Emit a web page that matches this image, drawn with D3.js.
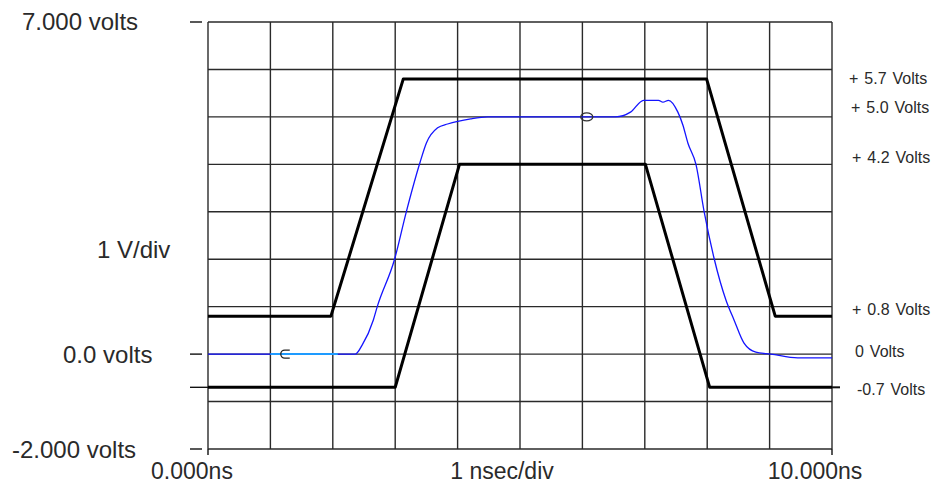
<!DOCTYPE html>
<html>
  <head>
    <meta charset="utf-8">
    <title>Timing window</title>
    <script src="https://cdn.jsdelivr.net/npm/d3@7"></script>
    <style type="text/css">
      body { margin: 0; background: #fff; }
      text { font-family: "Liberation Sans", Arial, sans-serif; fill: #2a2a2a; }
    </style>
  </head>
  <body>
    <script>
    // values (time in ns, level in volts)
    var upperLimit = [[0, 0.8], [1.97, 0.8], [3.13, 5.8], [7.99, 5.8], [9.09, 0.8], [10, 0.8]];
    var lowerLimit = [[0, -0.7], [3.0, -0.7], [4.03, 4.0], [7.01, 4.0], [8.04, -0.7], [10, -0.7]];
    var signal = [
      [0, 0], [2.36, 0], [2.47, 0.19], [2.65, 0.72], [2.71, 0.99], [2.99, 2.0],
      [3.18, 3.01], [3.40, 4.05], [3.50, 4.45], [3.68, 4.77], [3.84, 4.85],
      [4.21, 4.96], [4.48, 5.0], [6.53, 5.0], [6.77, 5.1], [6.98, 5.35],
      [7.22, 5.35], [7.29, 5.31], [7.38, 5.35], [7.53, 5.1], [7.61, 4.83],
      [7.69, 4.45], [7.82, 4.0], [7.95, 3.01], [8.11, 2.02], [8.30, 1.14],
      [8.43, 0.72], [8.59, 0.23], [8.78, 0.04], [9.02, 0], [9.45, -0.08], [10, -0.08]
    ];
    var cursorSpan = [1.0, 2.08];        // highlighted piece of the trace
    var cursors = [[1.23, 0], [6.07, 5.0]];
    var leftTicks = [7, 0, -0.7, -2];
    var leftLabels = ["7.000 volts", "1 V/div", "0.0 volts", "-2.000 volts"];
    var bottomLabels = ["0.000ns", "1 nsec/div", "10.000ns"];
    var rightLabels = ["+ 5.7 Volts", "+ 5.0 Volts", "+ 4.2 Volts", "+ 0.8 Volts", "0 Volts", "-0.7 Volts"];
    var rightLevels = [5.7, 5.0, 4.2, 0.8, 0, -0.7];

    var width = 933, height = 484;

    var x = d3.scaleLinear().domain([0, 10]).range([208, 832]);
    var y = d3.scaleLinear().domain([-2, 7]).range([449, 22]);

    var svg = d3.select("body").append("svg")
        .attr("width", width)
        .attr("height", height);

    // grid, 1 ns by 1 V
    var grid = svg.append("g").attr("stroke", "#2a2a2a").attr("stroke-width", 1.4);
    grid.selectAll("line.v")
      .data(d3.range(0, 11))
      .enter().append("line")
        .attr("x1", function(d) { return x(d); })
        .attr("x2", function(d) { return x(d); })
        .attr("y1", y(7)).attr("y2", y(-2));
    grid.selectAll("line.h")
      .data(d3.range(-2, 8))
      .enter().append("line")
        .attr("y1", function(d) { return y(d); })
        .attr("y2", function(d) { return y(d); })
        .attr("x1", x(0)).attr("x2", x(10));

    // tick marks on the left and bottom
    var ticks = svg.append("g").attr("stroke", "#111").attr("stroke-width", 1.4);
    ticks.selectAll("line.l")
      .data(leftTicks)
      .enter().append("line")
        .attr("x1", 190)
        .attr("x2", function(d) { return d == -0.7 ? x(0) : 202; })
        .attr("y1", function(d) { return y(d); })
        .attr("y2", function(d) { return y(d); });
    ticks.selectAll("line.b")
      .data([0, 10])
      .enter().append("line")
        .attr("x1", function(d) { return x(d); })
        .attr("x2", function(d) { return x(d); })
        .attr("y1", y(-2)).attr("y2", y(-2) + 6);
    ticks.append("line")
      .attr("x1", x(10)).attr("x2", x(10) + 8)
      .attr("y1", y(-0.7)).attr("y2", y(-0.7))
      .attr("stroke-width", 2);

    var line = d3.line()
      .x(function(d) { return x(d[0]); })
      .y(function(d) { return y(d[1]); });

    svg.selectAll("path.limit")
      .data([upperLimit, lowerLimit])
      .enter().append("path")
        .attr("d", line)
        .attr("fill", "none")
        .attr("stroke", "#000")
        .attr("stroke-width", 3)
        .attr("stroke-linejoin", "round");

    // measured signal, smoothed
    var smooth = d3.line()
      .x(function(d) { return x(d[0]); })
      .y(function(d) { return y(d[1]); })
      .curve(d3.curveMonotoneX);

    svg.append("path")
      .attr("d", smooth(signal))
      .attr("fill", "none")
      .attr("stroke", "#1414ff")
      .attr("stroke-width", 1.3);

    svg.append("path")
      .attr("d", line([[cursorSpan[0], 0], [cursorSpan[1], 0]]))
      .attr("stroke", "#1e9bff")
      .attr("stroke-width", 2);

    // cursor markers
    svg.append("path")
      .attr("d", "M" + (x(cursors[0][0]) + 5) + "," + (y(cursors[0][1]) - 4) +
                 " h-5 a4,4 0 0 0 0,8 h5")
      .attr("fill", "none")
      .attr("stroke", "#222")
      .attr("stroke-width", 1.3);
    svg.append("ellipse")
      .attr("cx", x(cursors[1][0]))
      .attr("cy", y(cursors[1][1]))
      .attr("rx", 6).attr("ry", 4)
      .attr("fill", "none")
      .attr("stroke", "#333")
      .attr("stroke-width", 1.3);

    // left side captions
    var leftPos = [[22, 30], [97, 258], [63, 363], [12, 458]];
    svg.selectAll("text.left")
      .data(leftLabels)
      .enter().append("text")
        .attr("x", function(d, i) { return leftPos[i][0]; })
        .attr("y", function(d, i) { return leftPos[i][1]; })
        .attr("font-size", 24)
        .text(function(d) { return d; });

    // bottom captions
    var bottomX = [192, 502, 815];
    svg.selectAll("text.bottom")
      .data(bottomLabels)
      .enter().append("text")
        .attr("x", function(d, i) { return bottomX[i]; })
        .attr("y", 479)
        .attr("text-anchor", "middle")
        .attr("font-size", 23)
        .text(function(d) { return d; });

    // right side level captions
    var rightX = [849, 851, 852, 852, 855, 857];
    var rightDy = [-6, -10, 2, -7, -3, 2];
    svg.selectAll("text.right")
      .data(rightLabels)
      .enter().append("text")
        .attr("x", function(d, i) { return rightX[i]; })
        .attr("y", function(d, i) { return y(rightLevels[i]) + rightDy[i] + 6; })
        .attr("font-size", 16)
        .attr("word-spacing", 1.5)
        .text(function(d) { return d; });
    </script>
  </body>
</html>
